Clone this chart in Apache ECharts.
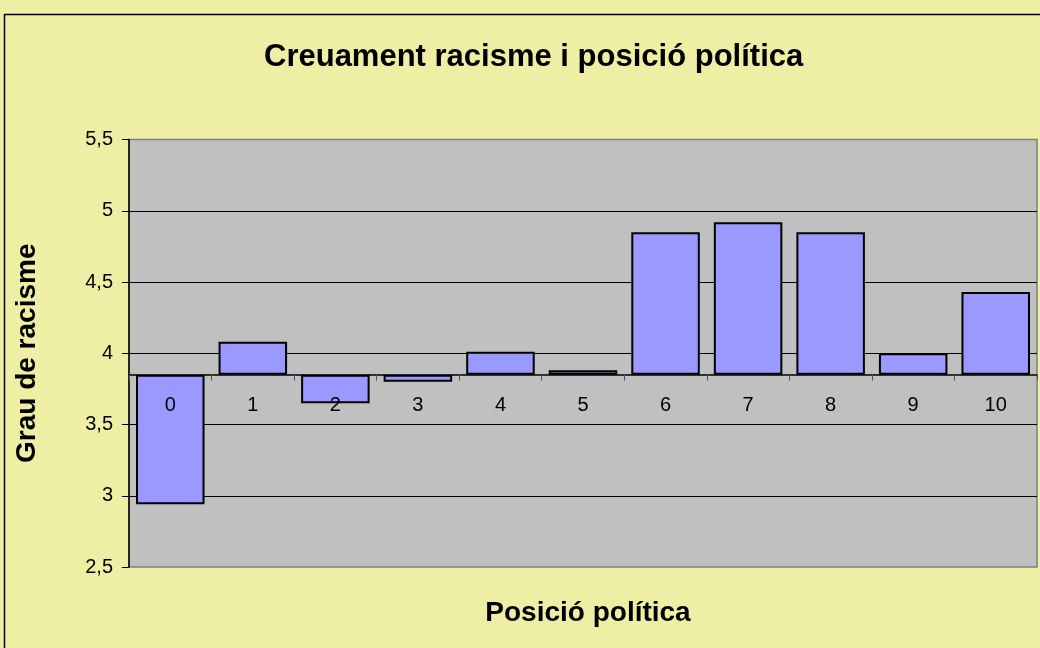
<!DOCTYPE html>
<html>
<head>
<meta charset="utf-8">
<script src="https://cdn.jsdelivr.net/npm/echarts@6/dist/echarts.min.js"></script>
<style>
  html, body { margin: 0; padding: 0; background: #eeeea4; }
  #chart { width: 1040px; height: 648px; }
</style>
</head>
<body>
<div id="chart"></div>
<script>
// posicio politica 0..10
const categories = ["0", "1", "2", "3", "4", "5", "6", "7", "8", "9", "10"];
// mean racism score per position
const values = [2.94, 4.08, 3.65, 3.8, 4.01, 3.88, 4.85, 4.92, 4.85, 4.0, 4.43];
// where the category axis crosses the value axis
const crossAt = 3.85;
const yTicks = [2.5, 3, 3.5, 4, 4.5, 5, 5.5];

const font = "'Liberation Sans', Arial, sans-serif";

// bars hang from crossAt: an invisible stacked part up to the lower end,
// then the visible part covering the difference
const hidden = values.map(v => Math.min(v, crossAt));
const shown = values.map(v => Math.abs(v - crossAt));

const myChart = echarts.init(document.getElementById("chart"), null, { renderer: "canvas" });

const gridLeft = 129;
const gridRight = 3;

const option = {
  backgroundColor: "#eeeea4",
  animation: false,
  title: [
    {
      text: "Creuament racisme i posició política",
      left: 259,
      top: 37,
      textStyle: { fontFamily: font, fontSize: 31, fontWeight: "bold", color: "#000" }
    },
    {
      text: "Posició política",
      left: (gridLeft + 1040 - gridRight) / 2,
      textAlign: "center",
      top: 594,
      textStyle: { fontFamily: font, fontSize: 28, fontWeight: "bold", color: "#000" }
    }
  ],
  graphic: [
    {
      type: "rect",
      silent: true,
      shape: { x: 4.5, y: 14.5, width: 1200, height: 800 },
      style: { fill: null, stroke: "#000", lineWidth: 1.5 }
    }
  ],
  grid: {
    left: gridLeft,
    top: 139.5,
    right: gridRight,
    bottom: 81,
    show: true,
    backgroundColor: "#c0c0c0",
    borderColor: "#808080",
    borderWidth: 1.5
  },
  xAxis: {
    type: "category",
    data: categories,
    axisLine: { onZero: false, lineStyle: { color: "#000", width: 1.5 } },
    axisTick: { show: true, interval: 0, length: 6, lineStyle: { color: "#555", width: 1 } },
    axisLabel: { interval: 0, margin: 21, fontFamily: font, fontSize: 20, color: "#000" },
    splitLine: { show: false },
    z: 10
  },
  yAxis: {
    type: "value",
    min: yTicks[0],
    max: yTicks[yTicks.length - 1],
    interval: 0.5,
    name: "Grau de racisme",
    nameLocation: "middle",
    nameGap: 88,
    nameTextStyle: { fontFamily: font, fontSize: 28, fontWeight: "bold", color: "#000" },
    axisLine: { show: true, lineStyle: { color: "#000", width: 1.5 } },
    axisTick: { show: true, length: 7, lineStyle: { color: "#000" } },
    axisLabel: {
      margin: 16,
      fontFamily: font,
      fontSize: 20,
      color: "#000",
      formatter: v => String(v).replace(".", ",")
    },
    splitLine: {
      show: true,
      showMinLine: false,
      showMaxLine: false,
      lineStyle: { color: "#000", width: 1 }
    }
  },
  series: [
    {
      type: "bar",
      stack: "r",
      data: hidden,
      barCategoryGap: "17%",
      itemStyle: { color: "rgba(0,0,0,0)", borderWidth: 0 },
      silent: true
    },
    {
      type: "bar",
      stack: "r",
      data: shown,
      barCategoryGap: "17%",
      itemStyle: { color: "#9999ff", borderColor: "#000", borderWidth: 2 }
    }
  ]
};

myChart.setOption(option);

// move the category axis up to the crossing value
const crossY = myChart.convertToPixel({ yAxisIndex: 0 }, crossAt);
const gridBottomY = myChart.convertToPixel({ yAxisIndex: 0 }, yTicks[0]);
myChart.setOption({ xAxis: { offset: crossY - gridBottomY } });
</script>
</body>
</html>
